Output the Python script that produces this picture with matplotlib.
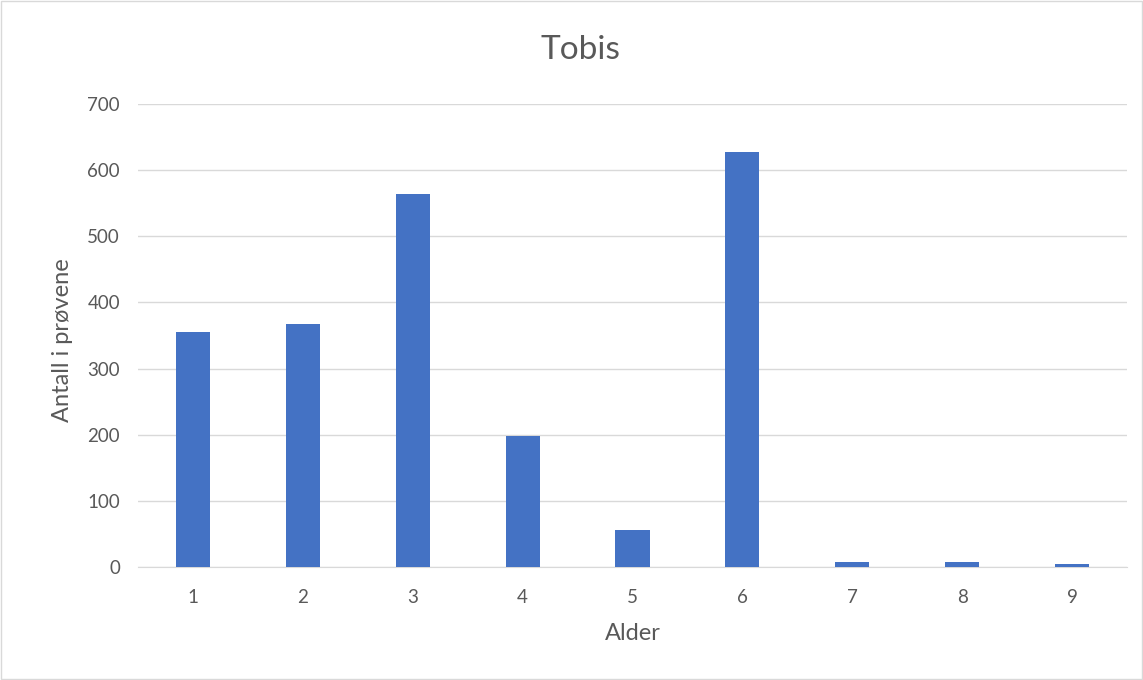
import matplotlib
matplotlib.use("Agg")
import matplotlib.pyplot as plt

alder = ["1", "2", "3", "4", "5", "6", "7", "8", "9"]
antall = [355, 367, 564, 198, 56, 627, 7, 7, 4]
y_ticks = [0, 100, 200, 300, 400, 500, 600, 700]

plt.rcParams['font.family'] = ['Lato', 'DejaVu Sans']
grey = "#595959"

fig = plt.figure(figsize=(11.43, 6.8), dpi=100)
ax = fig.add_axes([0.1207, 0.1662, 0.8653, 0.6808])

x = range(len(alder))
ax.bar(x, antall, width=0.31, color="#4472C4", zorder=3)
ax.set_xlim(-0.5, len(alder) - 0.5)
ax.set_ylim(0, 700)
ax.set_yticks(y_ticks)
ax.set_xticks(list(x))
ax.set_xticklabels(alder)

ax.grid(axis="y", color="#d9d9d9", linewidth=1, zorder=0)
for s in ["top", "right", "left"]:
    ax.spines[s].set_visible(False)
ax.spines["bottom"].set_color("#d9d9d9")
ax.tick_params(length=0, labelsize=13.5, colors=grey)
ax.tick_params(axis="x", pad=16)
ax.tick_params(axis="y", pad=13)

fig.text(0.508, 0.926, "Tobis", fontsize=24, color=grey, ha="center", va="center")
ax.set_xlabel("Alder", fontsize=17, color=grey, labelpad=12)
ax.set_ylabel("Antall i prøvene", fontsize=17, color=grey)
ax.yaxis.set_label_coords(-0.066, 0.49)

fig.patches.append(plt.Rectangle((0.001, 0.001), 0.998, 0.998, transform=fig.transFigure,
                                 fill=False, edgecolor="#d9d9d9", linewidth=1))

fig.savefig("out.png", dpi=100)
